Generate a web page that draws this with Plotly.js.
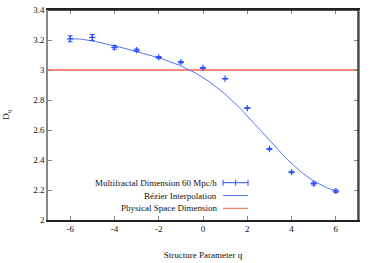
<!DOCTYPE html>
<html>
<head>
<meta charset="utf-8">
<script src="https://cdn.plot.ly/plotly-3.0.1.min.js"></script>
<style>html,body{margin:0;padding:0;background:#fff}#chart{width:374px;height:263px}</style>
</head>
<body>
<div id="chart"></div>
<script>
const q = [-6, -5, -4, -3, -2, -1, 0, 1, 2, 3, 4, 5, 6];
const Dq = [3.208, 3.217, 3.151, 3.132, 3.084, 3.052, 3.014, 2.942, 2.746, 2.473, 2.319, 2.243, 2.192];
const DqErr = [0.02, 0.02, 0.012, 0.008, 0.006, 0.005, 0.004, 0.002, 0.003, 0.004, 0.005, 0.01, 0.008];
const physicalDim = [3, 3];
const physicalX = [-7, 7];
const xTicks = [-6, -4, -2, 0, 2, 4, 6];
const yTicks = [2, 2.2, 2.4, 2.6, 2.8, 3, 3.2, 3.4];
const yTickText = ['2', '2.2', '2.4', '2.6', '2.8', '3', '3.2', '3.4'];
const legendLabels = ['Multifractal Dimension 60 Mpc/h', 'Bézier Interpolation', 'Physical Space Dimension'];

// gnuplot-style "smooth bezier": Bezier curve using all data points as control points
function bezier(xs, ys, n) {
  const m = xs.length - 1;
  const binom = [];
  for (let k = 0; k <= m; k++) {
    let c = 1;
    for (let j = 1; j <= k; j++) c = c * (m - j + 1) / j;
    binom.push(c);
  }
  const bx = [], by = [];
  for (let i = 0; i <= n; i++) {
    const t = i / n;
    let sx = 0, sy = 0;
    for (let k = 0; k <= m; k++) {
      const w = binom[k] * Math.pow(t, k) * Math.pow(1 - t, m - k);
      sx += w * xs[k]; sy += w * ys[k];
    }
    bx.push(sx); by.push(sy);
  }
  return [bx, by];
}
const [bzX, bzY] = bezier(q, Dq, 200);

const blue = '#2b4cff';
const lineBlue = '#5677f4';
const red = '#f4614d';
const font = {family: '"Liberation Serif", "DejaVu Serif", serif', size: 9, color: '#111'};

const traces = [
  {x: physicalX, y: physicalDim, mode: 'lines', line: {color: red, width: 1.3}, hoverinfo: 'skip'},
  {x: bzX, y: bzY, mode: 'lines', line: {color: lineBlue, width: 1}, hoverinfo: 'skip'},
  {x: q, y: Dq, mode: 'markers', type: 'scatter',
   marker: {symbol: 'cross-thin', size: 4.5, color: blue, line: {color: blue, width: 1.2}},
   error_y: {type: 'data', array: DqErr, visible: true, color: blue, thickness: 1, width: 2.5}}
];

// legend (gnuplot style: right-aligned text, sample on the right)
const legRowsY = [182.7, 195.5, 208.3];
const H = 263, T = 10, B = 43, L = 48, R = 16, W = 374;
const pw = W - L - R, ph = H - T - B;
const py = y => 1 - (y - T) / ph;
const px = x => (x - L) / pw;
const annotations = legendLabels.map((t, i) => ({
  text: t, xref: 'paper', yref: 'paper', x: px(219), y: py(legRowsY[i]),
  xanchor: 'right', yanchor: 'middle', showarrow: false, font: font
}));
const shapes = [
  {type: 'line', xref: 'paper', yref: 'paper', x0: px(223), x1: px(248), y0: py(legRowsY[0]), y1: py(legRowsY[0]), line: {color: blue, width: 1}},
  {type: 'line', xref: 'paper', yref: 'paper', x0: px(223), x1: px(223), y0: py(legRowsY[0] - 3), y1: py(legRowsY[0] + 3), line: {color: blue, width: 1}},
  {type: 'line', xref: 'paper', yref: 'paper', x0: px(248), x1: px(248), y0: py(legRowsY[0] - 3), y1: py(legRowsY[0] + 3), line: {color: blue, width: 1}},
  {type: 'line', xref: 'paper', yref: 'paper', x0: px(235.7), x1: px(235.7), y0: py(legRowsY[0] - 3), y1: py(legRowsY[0] + 3), line: {color: blue, width: 1}},
  {type: 'line', xref: 'paper', yref: 'paper', x0: px(223), x1: px(248), y0: py(legRowsY[1]), y1: py(legRowsY[1]), line: {color: lineBlue, width: 1}},
  {type: 'line', xref: 'paper', yref: 'paper', x0: px(223), x1: px(248), y0: py(legRowsY[2]), y1: py(legRowsY[2]), line: {color: red, width: 1}},
  {type: 'line', xref: 'paper', yref: 'paper', x0: 1, x1: 1, y0: 0, y1: 1, line: {color: '#222', width: 1.3}},
  {type: 'line', xref: 'paper', yref: 'paper', x0: 0, x1: 1, y0: 1, y1: 1, line: {color: '#222', width: 1.3}}
];

const layout = {
  width: W, height: H,
  margin: {l: L, r: R, t: T, b: B, pad: 0},
  paper_bgcolor: '#fff', plot_bgcolor: '#fff',
  showlegend: false,
  font: font,
  xaxis: {
    range: [-7, 7], tickvals: xTicks, ticktext: xTicks.map(String),
    ticks: 'inside', ticklen: 4, tickcolor: '#888', tickwidth: 1,
    showline: true, linecolor: '#222', linewidth: 1.6, mirror: 'ticks',
    showgrid: false, zeroline: false, tickfont: font,
    title: {text: 'Structure Parameter q', font: font, standoff: 18}
  },
  yaxis: {
    range: [2, 3.4], tickvals: yTicks, ticktext: yTickText,
    ticks: 'inside', ticklen: 4, tickcolor: '#888', tickwidth: 1,
    showline: true, linecolor: '#888', linewidth: 1.6, mirror: 'ticks',
    showgrid: false, zeroline: false, tickfont: font,
    title: {text: 'D<sub>q</sub>', font: font, standoff: 22}
  },
  annotations: annotations,
  shapes: shapes
};
Plotly.newPlot('chart', traces, layout, {staticPlot: true, displayModeBar: false});
</script>
</body>
</html>
